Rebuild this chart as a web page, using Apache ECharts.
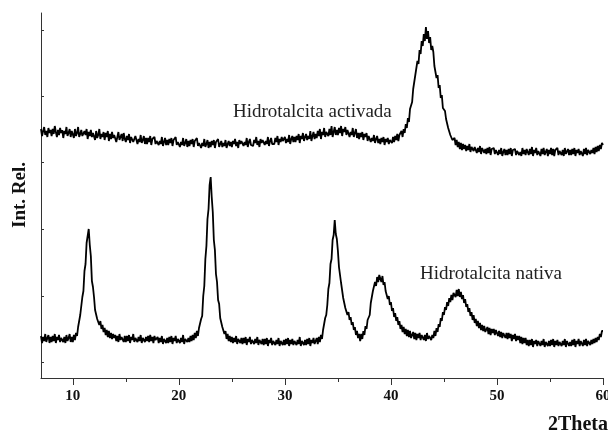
<!DOCTYPE html>
<html>
<head>
<meta charset="utf-8">
<script src="https://cdn.jsdelivr.net/npm/echarts@6/dist/echarts.min.js"></script>
<style>
  html, body { margin: 0; padding: 0; background: #fff; }
  #chart { width: 608px; height: 434px; }
</style>
</head>
<body>
<div id="chart"></div>
<script>
// XRD patterns, sampled every 0.1 degree from 7.0 to 60.0 (2Theta)
const THETA_START = 7.0;
const THETA_STEP = 0.1;

// Activated hydrotalcite (offset pattern on top)
const activada = [
  249,242,247,251,243,247,241,250,245,248,
  242,249,244,252,246,241,248,243,250,245,
  248,240,247,244,251,242,245,249,241,247,
  247,240,249,242,245,251,241,244,248,242,
  240,247,243,249,239,246,242,248,241,245,
  245,238,247,240,243,249,239,244,241,246,
  238,245,241,247,237,244,239,246,240,243,
  243,236,241,246,238,240,244,237,245,239,
  236,242,238,244,235,241,243,236,239,242,
  241,234,239,236,243,235,238,242,234,240,
  234,240,236,242,233,239,237,241,234,237,
  239,233,237,234,241,232,236,240,233,238,
  233,239,235,240,232,238,236,241,233,236,
  238,231,236,233,240,232,235,239,231,237,
  232,238,234,239,231,237,235,240,232,235,
  237,230,235,232,239,231,234,238,230,236,
  231,237,233,238,230,236,234,239,231,234,
  237,231,235,232,238,230,234,237,232,236,
  231,237,234,239,232,236,230,238,234,237,
  238,232,236,233,240,231,236,239,233,235,
  232,238,235,241,233,237,231,239,235,238,
  239,233,237,234,241,232,237,240,234,236,
  234,240,236,242,233,239,236,241,237,239,
  241,235,239,236,243,234,239,242,236,241,
  236,242,238,244,235,242,239,245,237,241,
  244,238,242,239,247,237,242,246,239,244,
  240,247,242,249,239,246,243,250,241,246,
  248,242,249,243,252,241,246,251,243,248,
  243,250,245,252,242,249,246,251,243,248,
  248,241,246,243,250,241,245,249,240,245,
  239,245,241,246,238,244,241,245,237,242,
  242,236,240,237,243,235,239,242,235,239,
  234,240,236,241,233,239,236,240,234,238,
  240,235,241,236,242,238,244,237,243,245,
  247,241,249,245,254,250,260,256,269,269,
  276,289,289,303,303,317,314,328,324,337,
  332,344,337,351,339,347,335,341,328,332,
  326,312,314,300,303,290,293,280,283,270,
  268,267,259,258,250,249,243,244,238,239,
  240,233,238,231,236,229,235,228,234,229,
  233,227,232,228,234,226,231,233,227,231,
  231,225,230,226,232,224,230,231,225,229,
  224,230,225,231,223,229,227,230,224,228,
  229,223,228,224,230,222,226,229,223,228,
  223,229,224,230,222,228,226,229,223,227,
  229,223,226,222,230,224,228,223,229,226,
  223,229,224,231,222,228,225,230,223,227,
  228,222,229,224,230,223,226,229,222,228,
  224,230,223,229,222,228,226,230,223,227,
  229,223,228,222,230,224,226,229,223,228,
  223,229,224,230,222,228,225,229,223,227,
  228,222,229,224,230,223,228,230,224,228,
  225,230,224,231,226,232,227,233,229,235,
  233
];

// Native hydrotalcite (lower pattern)
const nativa = [
  42,35,41,37,44,36,40,43,35,41,
  36,42,37,44,35,41,38,43,36,40,
  42,36,41,35,43,37,40,44,36,41,
  36,43,38,45,42,51,50,63,65,81,
  87,107,114,135,137,149,133,122,97,91,
  81,68,69,59,61,53,57,49,53,46,
  50,43,48,41,47,40,45,39,44,40,
  43,37,42,36,44,38,41,43,36,42,
  36,42,37,43,35,41,38,44,36,40,
  42,36,41,37,43,35,40,42,36,41,
  37,42,36,43,37,41,35,42,38,36,
  41,35,40,36,42,34,39,41,35,40,
  35,41,36,42,34,40,37,42,35,39,
  41,35,40,36,43,34,39,41,36,40,
  36,42,37,43,38,45,40,47,42,50,
  48,59,62,82,92,119,132,159,169,193,
  201,181,166,138,128,104,96,78,74,60,
  61,51,53,44,47,39,44,37,42,36,
  41,35,40,36,42,34,39,41,35,40,
  34,40,35,41,33,39,36,41,34,38,
  40,34,39,35,41,33,38,40,34,39,
  33,39,34,40,32,38,35,40,33,37,
  39,33,38,34,40,32,37,39,33,38,
  33,39,34,40,32,38,34,39,33,37,
  39,33,38,34,41,32,37,39,33,38,
  33,39,34,40,32,38,35,40,34,37,
  40,34,41,36,43,39,48,47,60,63,
  73,89,95,114,119,138,143,158,144,139,
  127,111,109,95,93,80,81,70,72,63,
  66,58,61,53,56,48,51,43,47,40,
  44,37,44,39,47,43,52,49,58,57,
  63,75,75,87,85,96,92,101,96,103,
  105,96,102,93,96,87,89,79,82,73,
  76,67,70,61,65,57,61,53,57,49,
  53,46,51,44,49,42,48,41,47,40,
  40,46,39,45,38,44,40,45,38,43,
  44,38,43,37,45,39,42,44,38,43,
  40,47,42,50,46,54,51,60,57,66,
  63,71,68,76,72,80,76,83,78,85,
  86,81,88,82,89,81,86,79,83,75,
  79,71,74,66,70,62,66,58,63,55,
  59,52,57,50,55,48,53,47,52,46,
  46,51,44,50,43,49,45,49,43,48,
  48,42,47,41,46,40,45,47,40,45,
  39,45,40,44,37,43,39,44,37,42,
  38,42,35,41,34,40,35,40,33,38,
  32,38,33,39,31,37,34,38,32,37,
  38,32,37,33,39,31,36,38,32,37,
  32,38,33,39,31,37,33,38,32,36,
  38,32,37,33,39,31,37,38,32,36,
  32,38,33,39,31,37,34,39,32,37,
  37,32,38,33,39,32,37,39,33,38,
  34,39,35,40,36,41,38,44,41,47,
  47
];

// Axis ticks
const xTickLabels = [10, 20, 30, 40, 50, 60];
const xMinorTicks = [15, 25, 35, 45, 55];
const yTicks = [16, 82, 149, 216, 282, 348];

const toPairs = ys => ys.map((y, i) => [+(THETA_START + i * THETA_STEP).toFixed(1), y]);

const serif = "'Liberation Serif', 'DejaVu Serif', serif";
const ink = '#111';

const chart = echarts.init(document.getElementById('chart'), null, { renderer: 'canvas' });

chart.setOption({
  animation: false,
  backgroundColor: '#fff',
  grid: {
    left: 41, right: 5, top: 13, bottom: 56,
    containLabel: false,
    outerBoundsMode: 'none'
  },
  xAxis: [
    {
      type: 'value',
      min: 7,
      max: 60,
      axisLine: { show: true, lineStyle: { color: '#333', width: 1 } },
      axisTick: { show: true, length: 7, customValues: xTickLabels, lineStyle: { color: '#333', width: 1 } },
      axisLabel: {
        customValues: xTickLabels,
        margin: 11,
        fontFamily: serif,
        fontWeight: 'bold',
        fontSize: 15,
        color: ink
      },
      splitLine: { show: false }
    },
    {
      type: 'value',
      position: 'bottom',
      min: 7,
      max: 60,
      axisLine: { show: false },
      axisTick: { show: true, length: 4, customValues: xMinorTicks, lineStyle: { color: '#333', width: 1 } },
      axisLabel: { show: false },
      splitLine: { show: false }
    }
  ],
  yAxis: {
    type: 'value',
    min: 0,
    max: 365,
    axisLine: { show: true, lineStyle: { color: '#333', width: 1 } },
    axisTick: { show: true, inside: true, length: 3, customValues: yTicks, lineStyle: { color: '#333' } },
    axisLabel: { show: false },
    splitLine: { show: false }
  },
  series: [
    {
      name: 'Hidrotalcita activada',
      type: 'line',
      data: toPairs(activada),
      showSymbol: false,
      sampling: null,
      lineStyle: { color: '#000', width: 1.8 },
      emphasis: { disabled: true }
    },
    {
      name: 'Hidrotalcita nativa',
      type: 'line',
      data: toPairs(nativa),
      showSymbol: false,
      sampling: null,
      lineStyle: { color: '#000', width: 1.8 },
      emphasis: { disabled: true }
    }
  ],
  graphic: [
    {
      type: 'text',
      x: 20, y: 195,
      rotation: Math.PI / 2,
      style: {
        text: 'Int. Rel.',
        font: 'bold 19px ' + serif,
        fill: ink,
        align: 'center',
        verticalAlign: 'middle'
      }
    },
    {
      type: 'text',
      x: 548, y: 425,
      style: {
        text: '2Theta',
        font: 'bold 20px ' + serif,
        fill: ink,
        align: 'left',
        verticalAlign: 'middle'
      }
    },
    {
      type: 'text',
      x: 233, y: 112,
      style: {
        text: 'Hidrotalcita activada',
        font: '19px ' + serif,
        fill: '#222',
        align: 'left',
        verticalAlign: 'middle'
      }
    },
    {
      type: 'text',
      x: 420, y: 274,
      style: {
        text: 'Hidrotalcita nativa',
        font: '19px ' + serif,
        fill: '#222',
        align: 'left',
        verticalAlign: 'middle'
      }
    }
  ]
});
</script>
</body>
</html>
